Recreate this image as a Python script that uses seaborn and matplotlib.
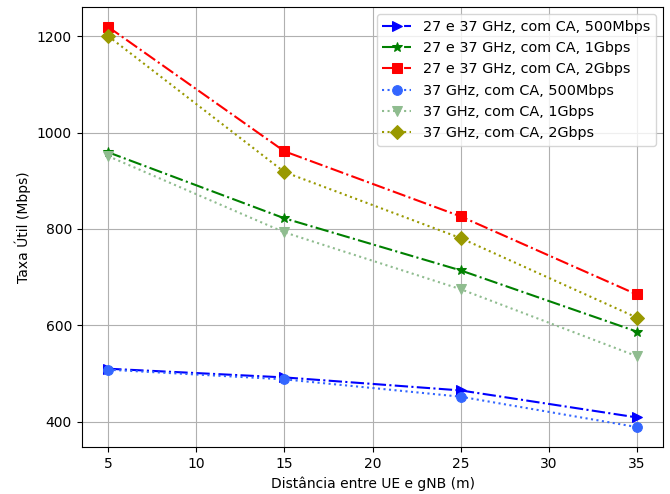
import pandas as pd
import matplotlib
matplotlib.use("Agg")
import matplotlib.pyplot as plt
import seaborn as sns

# Distances (m)
distancias = [5, 15, 25, 35]

# Throughput (Mbps)
ca_27_37_500m = [510, 492, 465, 409]
ca_27_37_1g = [959, 822, 714, 587]
ca_27_37_2g = [1219, 961, 826, 664]
ca_37_500m = [508, 488, 452, 389]
ca_37_1g = [951, 793, 675, 536]
ca_37_2g = [1200, 918, 781, 616]

series = [
    ("27 e 37 GHz, com CA, 500Mbps", ca_27_37_500m, "blue", "-.", ">"),
    ("27 e 37 GHz, com CA, 1Gbps", ca_27_37_1g, "green", "-.", "*"),
    ("27 e 37 GHz, com CA, 2Gbps", ca_27_37_2g, "red", "-.", "s"),
    ("37 GHz, com CA, 500Mbps", ca_37_500m, "#3366ff", ":", "o"),
    ("37 GHz, com CA, 1Gbps", ca_37_1g, "darkseagreen", ":", "v"),
    ("37 GHz, com CA, 2Gbps", ca_37_2g, "#999900", ":", "D"),
]

fig, ax = plt.subplots(figsize=(6.7, 4.94), dpi=100)

for label, vals, color, ls, marker in series:
    df = pd.DataFrame({"dist": distancias, "taxa": vals})
    sns.lineplot(data=df, x="dist", y="taxa", ax=ax, label=label, color=color,
                 linestyle=ls, marker=marker, markersize=7, markeredgecolor=color,
                 linewidth=1.5)

ax.set_xlabel("Distância entre UE e gNB (m)")
ax.set_ylabel("Taxa Útil (Mbps)")
ax.set_yticks([400, 600, 800, 1000, 1200])
ax.grid(True)
ax.legend(loc="upper right", fontsize=10.4)

fig.subplots_adjust(left=0.122, right=0.99, top=0.986, bottom=0.095)
fig.savefig("out.png", dpi=100)
